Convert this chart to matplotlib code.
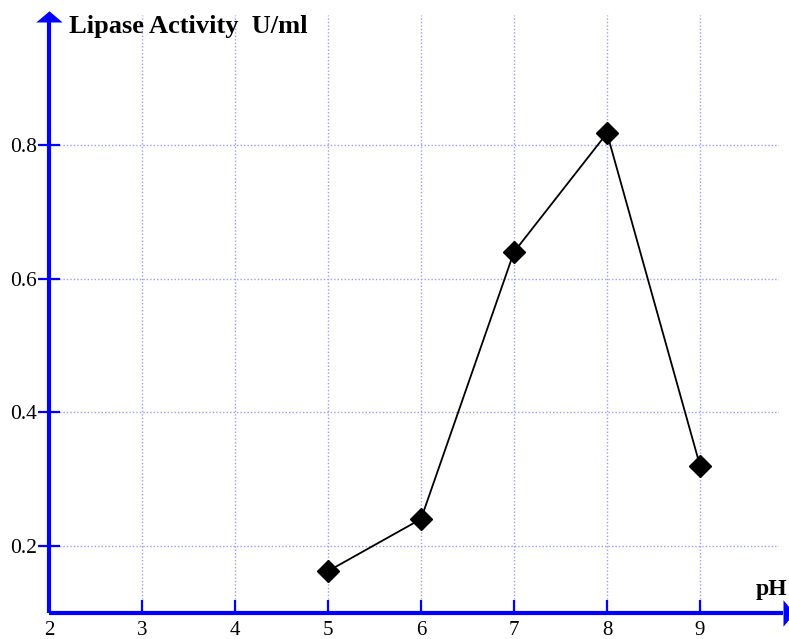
import matplotlib
matplotlib.use('Agg')
import matplotlib.pyplot as plt

# Datos
ph = [5, 6, 7, 8, 9]
actividad = [0.162, 0.240, 0.640, 0.818, 0.320]
xticks = [2, 3, 4, 5, 6, 7, 8, 9]
yticks = [0.2, 0.4, 0.6, 0.8]

plt.rcParams['font.family'] = ['Liberation Serif', 'DejaVu Serif']

fig = plt.figure(figsize=(7.89, 6.39), dpi=100)
W, H = 789, 639
ax = fig.add_axes([49/W, 26.5/H, (779-49)/W, (612.5-15)/H])

azul = '#0000ff'
ax.set_xlim(2, 2 + (779-49)/93.0)
ax.set_ylim(0.1, 0.995)

# Grid
ax.set_xticks(xticks)
ax.set_yticks(yticks)
ax.set_yticklabels(['0.2', '0.4', '0.6', '0.8'])
ax.grid(True, linestyle=(0, (1, 1.5)), color='#9d9dff', linewidth=1)

# Curva
ax.plot(ph, actividad, color='black', linewidth=1.3, marker='D', markersize=11.5,
        markerfacecolor='black', zorder=5, clip_on=False)

# Ejes con flechas (linea + punta triangular plana)
for s in ax.spines.values():
    s.set_visible(False)
ytop = (612.5-22)/597.5
xder = (783-49)/730.0
ax.plot([0, 0], [0, ytop], color=azul, lw=3, transform=ax.transAxes,
        clip_on=False, solid_capstyle='butt', zorder=6)
ax.plot([0, xder], [0, 0], color=azul, lw=3, transform=ax.transAxes,
        clip_on=False, solid_capstyle='butt', zorder=6)
punta_arriba = [(-1, 0), (1, 0), (0, 0.85), (-1, 0)]
punta_derecha = [(0, -1), (0, 1), (0.85, 0), (0, -1)]
ax.plot([0], [ytop], marker=punta_arriba, markersize=19, color=azul,
        markeredgewidth=0, transform=ax.transAxes, clip_on=False, zorder=7)
ax.plot([xder], [0], marker=punta_derecha, markersize=19, color=azul,
        markeredgewidth=0, transform=ax.transAxes, clip_on=False, zorder=7)

ax.tick_params(axis='x', direction='in', length=9.5, width=1.6, color=azul,
               labelsize=15, pad=6)
ax.tick_params(axis='y', direction='inout', length=16, width=1.6, color=azul,
               labelsize=15.5, pad=0.5)

# Titulos
fig.text(69/W, 1 - 27/H, 'Lipase Activity  U/ml', fontsize=19, fontweight='bold',
         ha='left', va='center')
fig.text(787/W, 1 - 590/H, 'pH', fontsize=17, fontweight='bold',
         ha='right', va='center')

fig.savefig('out.png', dpi=100)
